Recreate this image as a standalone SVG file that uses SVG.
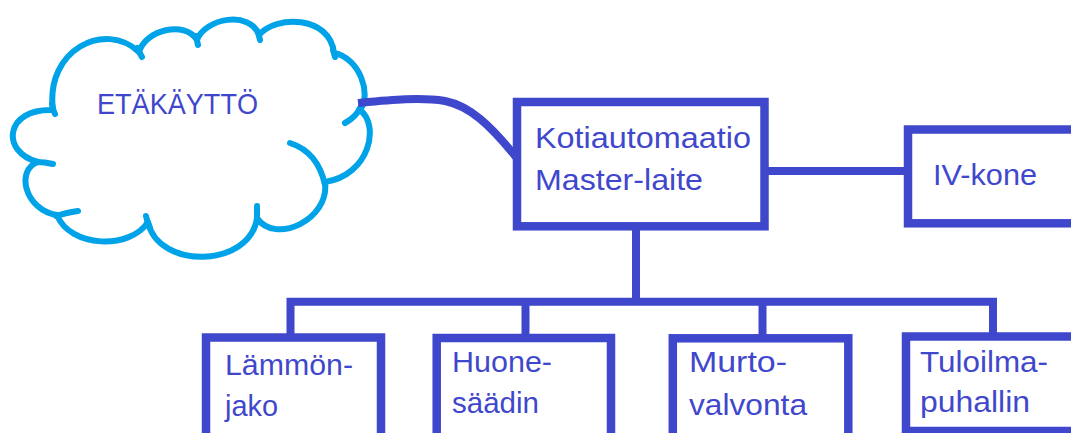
<svg xmlns="http://www.w3.org/2000/svg" width="1071" height="433" viewBox="0 0 1071 433">
<style>
.box{fill:#ffffff;stroke:#3F48CC;stroke-width:8.5}
.con{fill:none;stroke:#3F48CC;stroke-width:8}
.cloud{fill:none;stroke:#00A2E8;stroke-width:6;stroke-linecap:round;stroke-linejoin:round}
text{font-family:"Liberation Sans",Arial,sans-serif;font-size:29px;fill:#3F48CC}
</style>
<rect width="1071" height="433" fill="#ffffff"/>
<g id="cloud">
<path class="cloud" d="M53,110 C45,50 105,20 139,52 C145,30 185,20 197,40 C205,18 250,10 259,35 C275,15 330,15 334,53 C360,58 372,95 360,110 C380,125 370,175 325,182 C330,220 275,245 257,218 C250,268 158,270 148,222 C130,250 70,248 57,215 C25,210 15,170 38,162 C0,152 5,108 53,110 Z" fill="#ffffff"/>
<path class="cloud" d="M52,104 Q53,110 55,114"/>
<path class="cloud" d="M137,48 L142,57"/>
<path class="cloud" d="M196,36 L198,45"/>
<path class="cloud" d="M258,32 L260,40"/>
<path class="cloud" d="M333,50 L335,57"/>
<path class="cloud" d="M360,108 Q356,117 345,123"/>
<path class="cloud" d="M290,143 Q318,152 325,185"/>
<path class="cloud" d="M257,206 L257,218"/>
<path class="cloud" d="M146,216 Q147,222 150,228"/>
<path class="cloud" d="M78,211 Q65,213 56,216"/>
<path class="cloud" d="M53,164 Q45,162 36,162"/>
<text x="97" y="114" font-size="28" textLength="161" lengthAdjust="spacingAndGlyphs">ETÄKÄYTTÖ</text>
</g>
<g id="connectors">
<path class="con" d="M358,103 C390,100 420,97 445,101 C470,106 490,125 516,157" stroke-width="6.5"/>
<path class="con" d="M764,171 H908"/>
<path class="con" d="M636,226 V302"/>
<path class="con" d="M290.5,338 V301.7 H993 V337"/>
<path class="con" d="M525.5,301.7 V338"/>
<path class="con" d="M762.5,301.7 V338"/>
</g>
<g id="master">
<rect class="box" x="517" y="102" width="247.5" height="124.3"/>
<text x="535" y="148" textLength="216" lengthAdjust="spacingAndGlyphs">Kotiautomaatio</text>
<text x="535" y="190" textLength="168" lengthAdjust="spacingAndGlyphs">Master-laite</text>
</g>
<g id="ivkone">
<rect class="box" x="908" y="129.5" width="180" height="93.8"/>
<text x="933" y="185" textLength="104" lengthAdjust="spacingAndGlyphs">IV-kone</text>
</g>
<g id="lammonjako">
<rect class="box" x="206" y="337.5" width="175" height="110"/>
<text x="225" y="375" textLength="128" lengthAdjust="spacingAndGlyphs">Lämmön-</text>
<text x="225" y="416" textLength="53" lengthAdjust="spacingAndGlyphs">jako</text>
</g>
<g id="huonesaadin">
<rect class="box" x="436.7" y="338" width="174.3" height="110"/>
<text x="452" y="372" textLength="100" lengthAdjust="spacingAndGlyphs">Huone-</text>
<text x="452" y="413" textLength="87" lengthAdjust="spacingAndGlyphs">säädin</text>
</g>
<g id="murtovalvonta">
<rect class="box" x="672.8" y="338.3" width="175.5" height="110"/>
<text x="689" y="372" textLength="98" lengthAdjust="spacingAndGlyphs">Murto-</text>
<text x="689" y="415" textLength="118" lengthAdjust="spacingAndGlyphs">valvonta</text>
</g>
<g id="tuloilmapuhallin">
<rect class="box" x="906" y="336.5" width="180" height="94.5"/>
<text x="920" y="372" textLength="128" lengthAdjust="spacingAndGlyphs">Tuloilma-</text>
<text x="920" y="412" textLength="110" lengthAdjust="spacingAndGlyphs">puhallin</text>
</g>
</svg>
